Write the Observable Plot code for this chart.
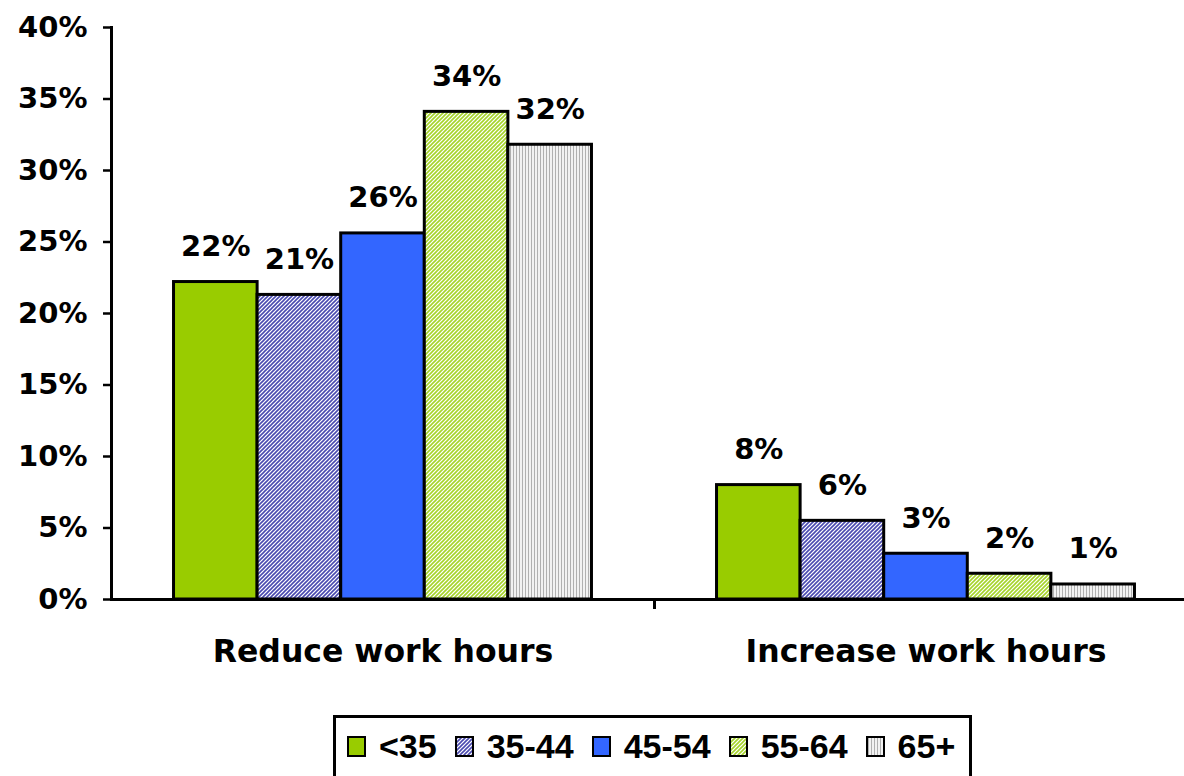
<!DOCTYPE html>
<html>
<head>
<meta charset="utf-8">
<script src="https://cdn.jsdelivr.net/npm/d3@7"></script>
<script src="https://cdn.jsdelivr.net/npm/@observablehq/plot@0.6"></script>
<style>
  html, body { margin: 0; padding: 0; background: #fff; }
  #chart svg { display: block; overflow: visible; }
  #legend {
    position: absolute; left: 333px; top: 715px;
    border: 3px solid #000; background: #fff;
    display: flex; align-items: center;
    padding: 9px 14px 25px 11px;
    font-family: "Liberation Sans", Arial, sans-serif; font-weight: bold; font-size: 34px;
    color: #000;
  }
  #legend .item { display: flex; align-items: center; margin-right: 18px; }
  #legend .item:last-child { margin-right: 0; }
  #legend .sw { width: 15px; height: 17px; border: 2px solid #000; margin-right: 13px; }
</style>
</head>
<body>
<svg width="0" height="0" style="position:absolute">
  <defs>
    <pattern id="p3544" patternUnits="userSpaceOnUse" width="4" height="4">
      <rect width="4" height="4" fill="#ffffff"/>
      <path d="M-1,1 L1,-1 M0,4 L4,0 M3,5 L5,3" stroke="#4a4ab0" stroke-width="1.6"/>
    </pattern>
    <pattern id="p5564" patternUnits="userSpaceOnUse" width="4" height="4">
      <rect width="4" height="4" fill="#ffffff"/>
      <path d="M-1,1 L1,-1 M0,4 L4,0 M3,5 L5,3" stroke="#a6d42a" stroke-width="1.6"/>
    </pattern>
    <pattern id="p65" patternUnits="userSpaceOnUse" width="3" height="4">
      <rect width="3" height="4" fill="#f2f2f2"/>
      <rect x="0" width="1" height="4" fill="#b0b0b0"/>
    </pattern>
  </defs>
</svg>
<div id="chart"></div>
<div id="legend"></div>
<script>
const groups = ["Reduce work hours", "Increase work hours"];
const ages = ["<35", "35-44", "45-54", "55-64", "65+"];
const reduceValues = [22.2, 21.3, 25.6, 34.1, 31.8];
const increaseValues = [8.0, 5.5, 3.2, 1.8, 1.05];
const yTicks = [0, 5, 10, 15, 20, 25, 30, 35, 40];
const fills = ["#99cc00", "url(#p3544)", "#3366ff", "url(#p5564)", "url(#p65)"];

const data = [];
ages.forEach((a, i) => data.push({group: groups[0], age: a, value: reduceValues[i]}));
ages.forEach((a, i) => data.push({group: groups[1], age: a, value: increaseValues[i]}));

const W = 1184, mL = 111, mR = -13;
const bandW = (W - mL - mR) / groups.length;
const font = "DejaVu Sans, sans-serif";

const plot = Plot.plot({
  width: W,
  height: 700,
  marginLeft: mL,
  marginRight: mR,
  marginTop: 27,
  marginBottom: 101,
  style: {fontFamily: font, fontWeight: "bold", color: "#000", background: "#fff", overflow: "visible"},
  fx: {domain: groups, padding: 0, label: null, axis: null},
  x: {domain: ages, paddingInner: 0, paddingOuter: 0.748, axis: null, round: false},
  y: {domain: [0, 40], label: null},
  color: {domain: ages, range: fills},
  marks: [
    Plot.barY(data, {fx: "group", x: "age", y: "value", fill: "age", stroke: "#000", strokeWidth: 3}),
    Plot.text(data, {fx: "group", x: "age", y: "value", text: d => Math.round(d.value) + "%",
      lineAnchor: "bottom", dy: -26, fontSize: 29, fontWeight: "bold", fill: "#000"}),
    Plot.ruleY([0], {stroke: "#000", strokeWidth: 3}),
    Plot.frame({anchor: "left", stroke: "#000", strokeWidth: 3, facetAnchor: "left"}),
    Plot.axisY({ticks: yTicks, tickFormat: d => d + "%", tickSize: 8, tickPadding: 16,
      fontSize: 29, fontWeight: "bold", strokeWidth: 2.5}),
    Plot.axisFx({anchor: "bottom", tickSize: 0, tickPadding: 40, fontSize: 31.5, fontWeight: "bold", label: null}),
    Plot.axisFx({anchor: "bottom", tickSize: 10, tickFormat: () => "", dx: bandW / 2, strokeWidth: 3, label: null})
  ]
});
document.getElementById("chart").appendChild(plot);

const legend = document.getElementById("legend");
ages.forEach((a, i) => {
  const item = document.createElement("div");
  item.className = "item";
  const sw = document.createElement("div");
  sw.className = "sw";
  const svgSw = document.createElementNS("http://www.w3.org/2000/svg", "svg");
  svgSw.setAttribute("width", "15");
  svgSw.setAttribute("height", "17");
  svgSw.style.display = "block";
  const r = document.createElementNS("http://www.w3.org/2000/svg", "rect");
  r.setAttribute("width", "15"); r.setAttribute("height", "17");
  r.setAttribute("fill", fills[i]);
  svgSw.appendChild(r);
  sw.appendChild(svgSw);
  const t = document.createElement("span");
  t.textContent = a;
  item.appendChild(sw); item.appendChild(t);
  legend.appendChild(item);
});
</script>
</body>
</html>
